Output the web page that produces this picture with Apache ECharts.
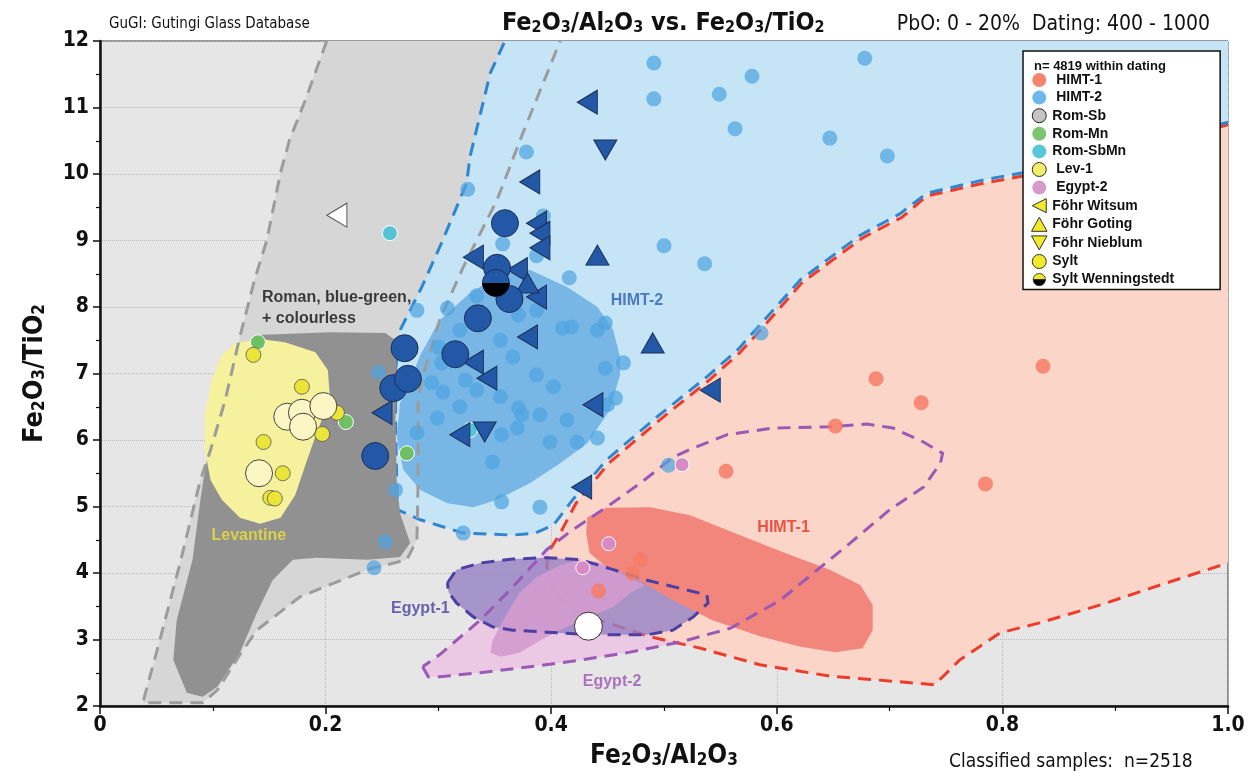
<!DOCTYPE html>
<html>
<head>
<meta charset="utf-8">
<title>GuGI Fe2O3/Al2O3 vs. Fe2O3/TiO2</title>
<script src="https://cdn.jsdelivr.net/npm/echarts@6.0.0/dist/echarts.min.js"></script>
<style>
  html, body { margin: 0; padding: 0; background: #fff; }
  #chart { width: 1257px; height: 771px; }
</style>
</head>
<body>
<div id="chart"></div>
<script>
// ---- reference groups (outlines, in data units) ----
const romanOuter = [[0.201,12.0],[0.182,11.11],[0.168,10.51],[0.160,10.02],[0.148,9.01],[0.137,8.41],[0.124,7.55],[0.111,6.60],[0.098,5.85],[0.089,5.40],[0.071,4.15],[0.053,2.99],[0.038,2.05],[0.091,2.05],[0.104,2.24],[0.124,2.77],[0.139,3.14],[0.177,3.64],[0.237,4.05],[0.272,4.20],[0.281,4.50],[0.282,5.40],[0.282,6.60],[0.286,6.95],[0.301,7.80],[0.322,8.60],[0.352,9.61],[0.375,10.62],[0.408,12.0]];
const romanCore = [[0.139,7.58],[0.204,7.62],[0.253,7.61],[0.262,7.50],[0.263,7.05],[0.262,6.30],[0.263,5.40],[0.266,4.90],[0.275,4.45],[0.266,4.24],[0.237,4.20],[0.192,4.23],[0.171,4.20],[0.153,3.89],[0.139,3.40],[0.124,2.80],[0.104,2.29],[0.091,2.14],[0.077,2.20],[0.065,2.69],[0.068,3.29],[0.082,4.20],[0.089,5.10],[0.093,5.55],[0.102,6.30],[0.115,7.05],[0.128,7.43]];
const levantine = [[0.120,7.46],[0.142,7.52],[0.164,7.47],[0.191,7.32],[0.202,7.05],[0.204,6.60],[0.193,6.15],[0.182,5.62],[0.173,5.17],[0.160,4.83],[0.142,4.74],[0.124,4.83],[0.108,5.10],[0.098,5.40],[0.093,5.85],[0.093,6.38],[0.099,6.90],[0.108,7.28]];
const himt2Outer = [[1.0,10.78],[0.913,10.39],[0.851,10.06],[0.818,10.02],[0.783,9.91],[0.733,9.71],[0.709,9.40],[0.674,9.08],[0.621,8.41],[0.585,7.73],[0.565,7.35],[0.538,6.95],[0.494,6.35],[0.449,5.70],[0.419,5.10],[0.402,4.72],[0.386,4.60],[0.366,4.57],[0.322,4.60],[0.284,4.80],[0.264,4.95],[0.263,5.40],[0.262,6.30],[0.262,7.05],[0.266,7.65],[0.285,8.29],[0.304,9.01],[0.325,9.86],[0.328,10.26],[0.346,11.52],[0.359,12.0]];
const himt2Corner = [[1.0,12.0]];
const himt2Core = [[0.275,6.90],[0.284,7.28],[0.301,7.80],[0.328,8.21],[0.355,8.48],[0.381,8.56],[0.414,8.30],[0.441,8.00],[0.455,7.65],[0.461,7.25],[0.461,6.98],[0.452,6.45],[0.432,5.95],[0.408,5.65],[0.381,5.35],[0.352,5.10],[0.331,4.99],[0.308,5.05],[0.284,5.25],[0.269,5.55],[0.263,6.05],[0.266,6.56]];
const himt1Outer = [[1.0,10.74],[0.913,10.35],[0.851,10.02],[0.818,9.97],[0.783,9.86],[0.733,9.67],[0.711,9.35],[0.676,9.04],[0.622,8.36],[0.587,7.68],[0.567,7.31],[0.540,6.90],[0.496,6.30],[0.451,5.65],[0.422,5.05],[0.408,4.60],[0.399,4.35],[0.396,4.12],[0.401,3.74],[0.417,3.47],[0.443,3.29],[0.488,3.04],[0.532,2.87],[0.585,2.62],[0.647,2.45],[0.740,2.32],[0.762,2.69],[0.798,3.10],[0.833,3.25],[0.887,3.52],[0.940,3.82],[1.0,4.15]];
const himt1Corner = [[1.0,10.74]];
const himt1Core = [[0.432,4.84],[0.449,4.98],[0.488,4.99],[0.523,4.87],[0.567,4.57],[0.612,4.27],[0.647,4.05],[0.674,3.82],[0.685,3.52],[0.685,3.14],[0.676,2.87],[0.652,2.81],[0.621,2.89],[0.585,3.05],[0.543,3.29],[0.508,3.59],[0.473,3.94],[0.449,4.09],[0.434,4.30],[0.431,4.60]];
const egypt1 = [[0.308,3.85],[0.316,4.05],[0.337,4.15],[0.366,4.21],[0.396,4.23],[0.426,4.20],[0.455,4.05],[0.485,3.89],[0.514,3.77],[0.538,3.67],[0.539,3.55],[0.526,3.34],[0.508,3.14],[0.485,3.07],[0.455,3.07],[0.426,3.08],[0.396,3.11],[0.366,3.14],[0.348,3.19],[0.331,3.34],[0.316,3.55],[0.309,3.71]];
const egypt2Core = [[0.346,2.80],[0.348,2.99],[0.361,3.40],[0.372,3.70],[0.387,3.94],[0.408,4.12],[0.426,4.20],[0.441,4.17],[0.455,4.05],[0.483,3.82],[0.470,3.70],[0.455,3.49],[0.426,3.29],[0.396,3.04],[0.372,2.80],[0.355,2.74]];
const egypt2Outer = [[0.286,2.59],[0.291,2.44],[0.301,2.44],[0.337,2.50],[0.381,2.59],[0.426,2.69],[0.470,2.81],[0.514,2.96],[0.559,3.17],[0.603,3.59],[0.634,4.02],[0.665,4.45],[0.700,4.95],[0.730,5.29],[0.745,5.65],[0.747,5.80],[0.730,5.97],[0.703,6.18],[0.680,6.24],[0.647,6.20],[0.597,6.18],[0.556,6.08],[0.526,5.88],[0.508,5.74],[0.479,5.35],[0.449,4.99],[0.419,4.65],[0.396,4.35],[0.366,3.79],[0.337,3.29],[0.301,2.77]];

// ---- samples ----
const himt1Pts = [[0.688,6.92],[0.728,6.56],[0.652,6.21],[0.836,7.11],[0.785,5.34],[0.555,5.53],[0.479,4.20],[0.472,4.00],[0.442,3.73]];
const himt2Pts = [[0.491,11.67],[0.491,11.13],[0.549,11.20],[0.578,11.47],[0.563,10.68],[0.678,11.74],[0.647,10.54],[0.698,10.27],[0.378,10.33],[0.326,9.77],[0.393,9.37],[0.357,8.95],[0.387,8.77],[0.500,8.92],[0.536,8.65],[0.416,8.44],[0.586,7.61],[0.334,8.17],[0.308,7.98],[0.281,7.95],[0.371,7.88],[0.387,7.95],[0.410,7.68],[0.418,7.70],[0.441,7.65],[0.448,7.76],[0.319,7.65],[0.355,7.50],[0.366,7.25],[0.300,7.40],[0.303,7.16],[0.387,6.98],[0.402,6.80],[0.448,7.08],[0.464,7.16],[0.294,6.86],[0.304,6.72],[0.324,6.90],[0.334,6.75],[0.319,6.50],[0.299,6.33],[0.281,6.11],[0.355,6.65],[0.371,6.48],[0.374,6.38],[0.390,6.38],[0.370,6.18],[0.356,6.08],[0.399,5.97],[0.414,6.30],[0.423,5.97],[0.441,6.03],[0.457,6.63],[0.450,6.53],[0.348,5.67],[0.356,5.07],[0.390,4.99],[0.322,4.60],[0.262,5.25],[0.253,4.47],[0.243,4.08],[0.247,7.02],[0.504,5.62]];
const romMnPts = [[0.140,7.47],[0.218,6.27],[0.272,5.80]];
const romSbMnPts = [[0.257,9.11],[0.328,6.15]];
const lev1Pts = [[0.136,7.28],[0.179,6.80],[0.145,5.97],[0.162,5.50],[0.197,6.09],[0.210,6.41],[0.151,5.13],[0.155,5.12]];
const egypt2Pts = [[0.516,5.63],[0.451,4.44],[0.428,4.08]];
// Föhr / Sylt finds, split by the group they fall into
const witsumHimt2 = [[0.432,11.08],[0.381,9.88],[0.387,9.26],[0.390,9.11],[0.390,8.89],[0.331,8.75],[0.370,8.56],[0.387,8.15],[0.379,7.55],[0.331,7.17],[0.343,6.93],[0.319,6.08],[0.437,6.53],[0.427,5.29],[0.541,6.75],[0.250,6.41]];
const witsumOther = [[0.210,9.38]];
const gotingHimt2 = [[0.441,8.78],[0.379,8.36],[0.490,7.46]];
const nieblumHimt2 = [[0.448,10.36],[0.341,6.12]];
const syltHimt2 = [[0.359,9.26],[0.352,8.59],[0.363,8.12],[0.335,7.83],[0.315,7.29],[0.270,7.38],[0.260,6.78],[0.273,6.92],[0.244,5.76]];
const syltLev1 = [[0.166,6.35],[0.179,6.41],[0.180,6.20],[0.198,6.51],[0.141,5.50]];
const syltOther = [[0.433,3.20]];
const wenningstedt = [[0.351,8.36]];

const regionLabels = [
    { name: 'Roman, blue-green,\n+ colourless', value: [0.1436, 7.98], color: '#111', pos: 'right' },
    { name: 'Levantine', value: [0.132, 4.57], color: '#ebe13a', pos: 'inside' },
    { name: 'HIMT-2', value: [0.476, 8.09], color: '#2d5fb5', pos: 'inside' },
    { name: 'HIMT-1', value: [0.606, 4.69], color: '#e8311f', pos: 'inside' },
    { name: 'Egypt-1', value: [0.284, 3.46], color: '#4a3d9c', pos: 'inside' },
    { name: 'Egypt-2', value: [0.454, 2.36], color: '#9c55b0', pos: 'inside' }
];

const NARROW = "'Liberation Sans Narrow','Arial Narrow','DejaVu Sans Condensed',sans-serif";
const SANS = "'Liberation Sans',Arial,sans-serif";
const DARK_BLUE = '#2358a6';
const LEFT_TRI = 'path://M0,5L10,0L10,10Z';
const UP_TRI = 'path://M5,0L10,9L0,9Z';
const DOWN_TRI = 'path://M0,0L10,0L5,9Z';
const LOWER_HALF = 'path://M0,0A50,50 0 0 0 100,0Z';

function region(name, pts, corner, fill, stroke, closed) {
    return {
        type: 'custom',
        name: name,
        coordinateSystem: 'cartesian2d',
        silent: true,
        clip: true,
        data: [[0.5, 7]],
        renderItem: function (params, api) {
            const p = pts.map(function (d) { return api.coord(d); });
            const children = [];
            if (fill) {
                const c = (corner || []).map(function (d) { return api.coord(d); });
                children.push({ type: 'polygon', shape: { points: p.concat(c) }, style: { fill: fill } });
            }
            if (stroke) {
                const line = closed ? p.concat([p[0]]) : p;
                children.push({
                    type: 'polyline',
                    shape: { points: line },
                    style: { fill: 'none', stroke: stroke, lineWidth: 3, lineDash: [13, 8] }
                });
            }
            return { type: 'group', children: children };
        }
    };
}

function dots(name, data, symbol, size, color, border, opacity, offset) {
    return {
        type: 'scatter',
        name: name,
        data: data,
        symbol: symbol,
        symbolSize: size,
        symbolOffset: offset || [0, 0],
        silent: true,
        itemStyle: {
            color: color,
            opacity: opacity || 1,
            borderColor: border ? border[0] : 'transparent',
            borderWidth: border ? border[1] : 0
        }
    };
}

function sub(big, small) {
    return {
        n: { fontFamily: NARROW, fontWeight: 'bold', fontSize: big, lineHeight: big + 8, verticalAlign: 'bottom', color: '#111' },
        s: { fontFamily: NARROW, fontWeight: 'bold', fontSize: small, lineHeight: small + 2, verticalAlign: 'bottom', color: '#111' }
    };
}

const halfIcon = 'image://data:image/svg+xml;charset=utf-8,' + encodeURIComponent(
    '<svg xmlns="http://www.w3.org/2000/svg" width="16" height="16">' +
    '<path d="M1,8 A7,7 0 0 1 15,8 Z" fill="#f0ea2a" stroke="#333" stroke-width="1"/>' +
    '<path d="M1,8 A7,7 0 0 0 15,8 Z" fill="#000" stroke="#333" stroke-width="1"/></svg>');

const chart = echarts.init(document.getElementById('chart'));

chart.setOption({
    animation: false,
    backgroundColor: '#fff',
    title: [
        { text: 'GuGI: Gutingi Glass Database', left: 104, top: 12, textStyle: { fontFamily: NARROW, fontSize: 15, fontWeight: 'normal', color: '#111' } },
        {
            text: '{n|Fe}{s|2}{n|O}{s|3}{n|/Al}{s|2}{n|O}{s|3}{n| vs. Fe}{s|2}{n|O}{s|3}{n|/TiO}{s|2}',
            left: 497, top: -2,
            textStyle: { rich: sub(25, 16) }
        },
        { text: 'PbO: 0 - 20%  Dating: 400 - 1000', right: 42, top: 9, textStyle: { fontFamily: NARROW, fontSize: 21, fontWeight: 'normal', color: '#111' } },
        { text: 'n= 4819 within dating', left: 1029, top: 55, z: 20, textStyle: { fontFamily: SANS, fontSize: 13, fontWeight: 'bold', color: '#111' } },
        { text: 'Classified samples:  n=2518', left: 944, top: 748, textStyle: { fontFamily: NARROW, fontSize: 19, fontWeight: 'normal', color: '#111' } }
    ],
    legend: {
        left: 1023,
        top: 51,
        orient: 'vertical',
        z: 10,
        selectedMode: false,
        backgroundColor: '#fff',
        borderColor: '#111',
        borderWidth: 1.5,
        padding: [22, 46, 3, 8],
        itemWidth: 16,
        itemHeight: 14,
        itemGap: 3.6,
        textStyle: { fontFamily: SANS, fontSize: 14, fontWeight: 'bold', color: '#111' },
        formatter: function (name) {
            return ['HIMT-1', 'HIMT-2', 'Lev-1', 'Egypt-2'].indexOf(name) >= 0 ? ' ' + name : name;
        },
        data: [
            { name: 'HIMT-1', icon: 'circle', itemStyle: { color: '#f4846f', borderWidth: 0, opacity: 1 } },
            { name: 'HIMT-2', icon: 'circle', itemStyle: { color: '#6db8e8', borderWidth: 0, opacity: 1 } },
            { name: 'Rom-Sb', icon: 'circle', itemStyle: { color: '#c4c4c4', borderColor: '#222', borderWidth: 1 } },
            { name: 'Rom-Mn', icon: 'circle', itemStyle: { color: '#7cc46f', borderWidth: 0 } },
            { name: 'Rom-SbMn', icon: 'circle', itemStyle: { color: '#58c8d8', borderWidth: 0 } },
            { name: 'Lev-1', icon: 'circle', itemStyle: { color: '#f2ee6c', borderColor: '#333', borderWidth: 1 } },
            { name: 'Egypt-2', icon: 'circle', itemStyle: { color: '#d59bc8', borderWidth: 0 } },
            { name: 'Föhr Witsum', icon: LEFT_TRI, itemStyle: { color: '#f0ea2a', borderColor: '#333', borderWidth: 1 } },
            { name: 'Föhr Goting', icon: UP_TRI, itemStyle: { color: '#f0ea2a', borderColor: '#333', borderWidth: 1 } },
            { name: 'Föhr Nieblum', icon: DOWN_TRI, itemStyle: { color: '#f0ea2a', borderColor: '#333', borderWidth: 1 } },
            { name: 'Sylt', icon: 'circle', itemStyle: { color: '#f0ea2a', borderColor: '#333', borderWidth: 1 } },
            { name: 'Sylt Wenningstedt', icon: halfIcon }
        ]
    },
    grid: {
        left: 100, right: 29, top: 41, bottom: 65,
        outerBoundsMode: 'none',
        containLabel: false,
        show: true,
        backgroundColor: '#e6e6e6',
        borderColor: '#333',
        borderWidth: 1
    },
    xAxis: {
        type: 'value',
        min: 0, max: 1, interval: 0.2,
        name: '{n|Fe}{s|2}{n|O}{s|3}{n|/Al}{s|2}{n|O}{s|3}',
        nameLocation: 'middle',
        nameGap: 29,
        nameTextStyle: { rich: sub(26, 17) },
        axisLine: { lineStyle: { color: '#111', width: 2.5 } },
        axisTick: { length: 8, lineStyle: { color: '#111', width: 1.5 } },
        minorTick: { show: true, splitNumber: 2, length: 5, lineStyle: { color: '#111', width: 1.2 } },
        splitLine: { show: true, lineStyle: { color: '#b9b9b9', type: 'dotted', width: 1 } },
        axisLabel: {
            margin: 9,
            fontFamily: NARROW, fontSize: 21, fontWeight: 'bold', color: '#111',
            formatter: function (v) { return v === 0 ? '0' : v.toFixed(1); }
        }
    },
    yAxis: {
        type: 'value',
        min: 2, max: 12, interval: 1,
        name: '{n|Fe}{s|2}{n|O}{s|3}{n|/TiO}{s|2}',
        nameLocation: 'middle',
        nameGap: 52,
        nameTextStyle: { rich: sub(27, 17) },
        axisLine: { lineStyle: { color: '#111', width: 2.5 } },
        axisTick: { length: 7, lineStyle: { color: '#111', width: 1.5 } },
        minorTick: { show: true, splitNumber: 2, length: 4, lineStyle: { color: '#111', width: 1.2 } },
        splitLine: { show: true, lineStyle: { color: '#b9b9b9', type: 'dotted', width: 1 } },
        axisLabel: { margin: 11, fontFamily: NARROW, fontSize: 21, fontWeight: 'bold', color: '#111' }
    },
    series: [
        region('romanOuter', romanOuter, null, '#d6d6d6', null),
        region('egypt2Outer', egypt2Outer, null, '#ebc9e4', null),
        region('himt1Outer', himt1Outer, himt1Corner, '#fbd5c8', '#ee3b2b'),
        region('himt2Outer', himt2Outer, himt2Corner, '#c5e4f6', '#2f86cf'),
        region('romanCore', romanCore, null, '#919191', null),
        region('levantine', levantine, null, '#f5f19c', null),
        region('himt2Core', himt2Core, null, '#78b7e5', null),
        region('egypt1', egypt1, null, 'rgba(150,130,196,0.82)', null),
        region('egypt2Core', egypt2Core, null, 'rgba(211,155,205,0.92)', null),
        region('himt1Core', himt1Core, null, '#f2867d', null),
        region('romanLine', romanOuter, null, null, '#9c9c9c'),
        region('egypt2Line', egypt2Outer, null, null, '#9b59b6', true),
        region('egypt1Line', egypt1, null, null, '#4c3fa3', true),

        dots('HIMT-1', himt1Pts, 'circle', 15, '#f47c66', null, 0.85),
        dots('HIMT-2', himt2Pts, 'circle', 15, '#4fa4e0', null, 0.72),
        dots('Rom-Sb', [], 'circle', 15, '#c4c4c4', ['#222', 1]),
        dots('Rom-Mn', romMnPts, 'circle', 15, '#6fbf64', ['#fff', 1]),
        dots('Rom-SbMn', romSbMnPts, 'circle', 15, '#52c4d6', ['#fff', 1]),
        dots('Lev-1', lev1Pts, 'circle', 15, '#ebe53a', ['#555', 0.8]),
        dots('Egypt-2', egypt2Pts, 'circle', 14, '#d88ac4', ['#fff', 1]),
        dots('Föhr Witsum', witsumOther, LEFT_TRI, [20, 24], '#ffffff', ['#555', 1]),
        dots('Föhr Witsum', witsumHimt2, LEFT_TRI, [20, 24], DARK_BLUE, ['#1b2f55', 1]),
        dots('Föhr Goting', gotingHimt2, UP_TRI, [23, 20], DARK_BLUE, ['#1b2f55', 1]),
        dots('Föhr Nieblum', nieblumHimt2, DOWN_TRI, [23, 20], DARK_BLUE, ['#1b2f55', 1]),
        dots('Sylt', syltHimt2, 'circle', 27, DARK_BLUE, ['#1b2f55', 1]),
        dots('Sylt', syltLev1, 'circle', 27, '#fbf6c4', ['#444', 1]),
        dots('Sylt', syltOther, 'circle', 28, '#ffffff', ['#333', 1]),
        dots('Sylt Wenningstedt', wenningstedt, 'circle', 27, DARK_BLUE, ['#1b2f55', 1]),
        dots('Sylt Wenningstedt', wenningstedt, LOWER_HALF, [27, 13.5], '#000', null, 1, [0, 6.75]),
        {
            type: 'scatter',
            name: 'labels',
            silent: true,
            symbolSize: 0,
            data: regionLabels.map(function (d) {
                return {
                    name: d.name,
                    value: d.value,
                    label: { color: d.color, position: d.pos, distance: 0, align: d.pos === 'right' ? 'left' : 'center' }
                };
            }),
            label: {
                show: true,
                formatter: '{b}',
                fontFamily: SANS,
                fontWeight: 'bold',
                fontSize: 16,
                lineHeight: 21
            }
        }
    ]
});
</script>
</body>
</html>
